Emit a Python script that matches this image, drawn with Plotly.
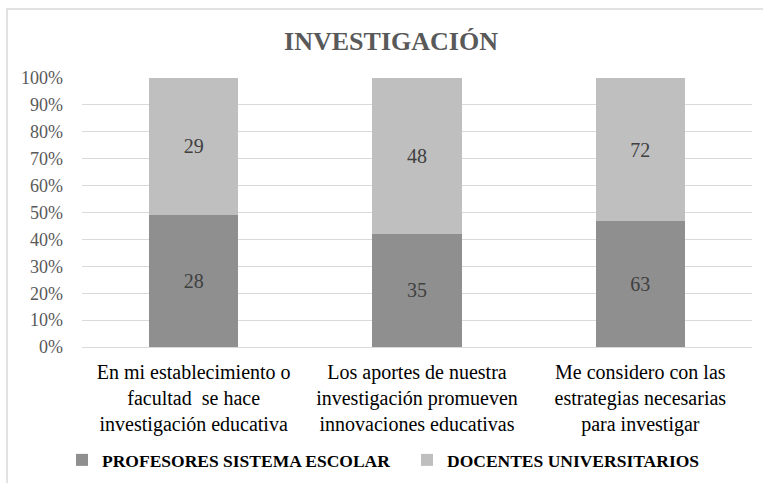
import plotly.graph_objects as go

categories = [
    "En mi establecimiento o<br>facultad  se hace<br>investigación educativa",
    "Los aportes de nuestra<br>investigación promueven<br>innovaciones educativas",
    "Me considero con las<br>estrategias necesarias<br>para investigar",
]
profesores = [28, 35, 63]
docentes = [29, 48, 72]
series_names = ["PROFESORES SISTEMA ESCOLAR", "DOCENTES UNIVERSITARIOS"]
title_text = "INVESTIGACIÓN"

FONT = "Liberation Serif"

fig = go.Figure()
fig.add_trace(go.Bar(
    x=categories, y=profesores, name=series_names[0], legend="legend",
    marker=dict(color="#8f8f8f", line=dict(width=0)),
    text=profesores, texttemplate="%{text}", textposition="inside",
    insidetextanchor="middle", textangle=0,
    textfont=dict(family=FONT, size=20, color="#404040"),
))
fig.add_trace(go.Bar(
    x=categories, y=docentes, name=series_names[1], legend="legend2",
    marker=dict(color="#bfbfbf", line=dict(width=0)),
    text=docentes, texttemplate="%{text}", textposition="inside",
    insidetextanchor="middle", textangle=0,
    textfont=dict(family=FONT, size=20, color="#404040"),
))

legend_common = dict(orientation="h", xref="container", yref="container",
                     xanchor="left", y=(483 - 460) / 483, yanchor="middle",
                     font=dict(family=FONT, size=17.5, color="#000000", weight="bold"),
                     bgcolor="rgba(0,0,0,0)")

fig.update_layout(
    barmode="stack", barnorm="percent", bargap=0.6,
    width=763, height=483,
    margin=dict(l=82, r=11, t=78, b=136, autoexpand=False),
    paper_bgcolor="white", plot_bgcolor="white",
    font=dict(family=FONT, color="#000000"),
    title=dict(text="<b>" + title_text + "</b>", x=391 / 763, xanchor="center",
               y=1 - 41 / 483, yanchor="middle", xref="container", yref="container",
               font=dict(family=FONT, size=26, color="#595959")),
    legend=dict(x=(84 - 22) / 763, **legend_common),
    legend2=dict(x=(429 - 22) / 763, **legend_common),
    showlegend=True,
    xaxis=dict(showgrid=False, showline=False, ticks="", automargin=False,
               tickfont=dict(family=FONT, size=20, color="#000000"),
               ticklabelstandoff=11, tickangle=0),
    yaxis=dict(range=[0, 100], dtick=10, ticksuffix="%", showgrid=True, automargin=False,
               gridcolor="#d9d9d9", gridwidth=1.3, zeroline=True,
               zerolinecolor="#d9d9d9", zerolinewidth=1.3, showline=False,
               tickfont=dict(family=FONT, size=18, color="#595959"),
               ticklabelstandoff=18),
)

# chart-area border (extends past right and bottom of the view)
fig.add_shape(type="rect", xref="paper", yref="paper",
              x0=(7 - 82) / 670, x1=(775 - 82) / 670,
              y0=(347 - 500) / 269, y1=1 + (78 - 9) / 269,
              line=dict(color="#d9d9d9", width=1.5), fillcolor="rgba(0,0,0,0)", layer="below")

fig.write_html("out.html", config={"displayModeBar": False},
               post_script="document.body.style.margin='0';")
